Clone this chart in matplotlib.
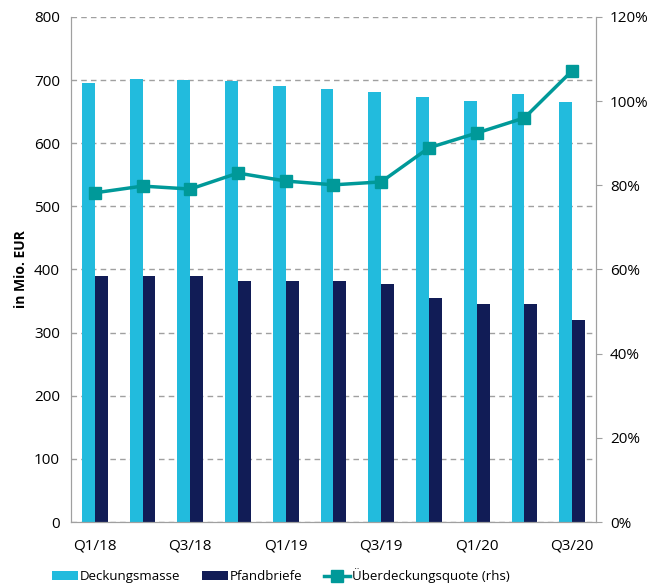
import matplotlib
matplotlib.use("Agg")
import matplotlib.pyplot as plt
import numpy as np

categories = ["Q1/18", "Q2/18", "Q3/18", "Q4/18", "Q1/19", "Q2/19", "Q3/19",
              "Q4/19", "Q1/20", "Q2/20", "Q3/20"]
deckungsmasse = [695, 702, 700, 698, 690, 686, 681, 673, 667, 678, 665]
pfandbriefe = [390, 390, 390, 381, 381, 381, 377, 355, 345, 345, 320]
quote = [78.2, 79.8, 79.1, 82.9, 81.0, 80.1, 80.8, 88.9, 92.4, 96.0, 107.2]
left_ticks = [0, 100, 200, 300, 400, 500, 600, 700, 800]
right_ticks = [0, 20, 40, 60, 80, 100, 120]

plt.rcParams['font.family'] = ['Open Sans', 'DejaVu Sans']

fig = plt.figure(figsize=(6.53, 5.86), dpi=100)
ax = fig.add_axes([0.1087, 0.1092, 0.804, 0.862])
ax2 = ax.twinx()

x = np.arange(len(categories))
w = 0.27
cyan = "#22BBDD"
navy = "#111C56"
teal = "#009999"

ax.set_axisbelow(True)
ax.yaxis.grid(True, linestyle=(0, (4, 3)), color="#A0A0A0", linewidth=1.0)
b1 = ax.bar(x - w / 2, deckungsmasse, w, color=cyan, label="Deckungsmasse")
b2 = ax.bar(x + w / 2, pfandbriefe, w, color=navy, label="Pfandbriefe")
ax.set_xlim(-0.5, len(categories) - 0.5)
ax.set_ylim(0, 800)
ax.set_yticks(left_ticks)
ax.set_xticks(x[::2])
ax.set_xticklabels(categories[::2])
ax.set_ylabel("in Mio. EUR", fontweight="bold", fontsize=10)

l1, = ax2.plot(x, quote, color=teal, linewidth=2.5, marker="s", markersize=8,
               label="Überdeckungsquote (rhs)")
ax2.set_ylim(0, 120)
ax2.set_yticks(right_ticks)
ax2.set_yticklabels([f"{t}%" for t in right_ticks])

for a in (ax, ax2):
    a.spines["top"].set_visible(False)
    for s in ("left", "right", "bottom"):
        a.spines[s].set_color("#A0A0A0")
    a.tick_params(labelsize=11, colors="#000000")
ax.tick_params(axis="y", length=0, pad=8)
ax.tick_params(axis="x", length=0, pad=12)
ax2.tick_params(axis="y", length=4, color="#A0A0A0", pad=6)

fig.legend(handles=[b1, b2, l1], loc="lower left", ncol=3, frameon=False,
           fontsize=9.5, bbox_to_anchor=(0.075, 0.0), handlelength=2.0,
           columnspacing=1.6, handletextpad=0.15, borderaxespad=0.1,
           borderpad=0.1)

fig.savefig("out.png", dpi=100)
